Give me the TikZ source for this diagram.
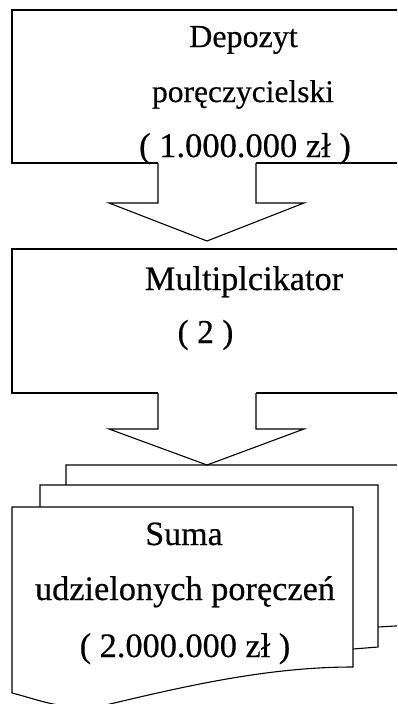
\documentclass[tikz,border=0pt]{standalone}
\usepackage{fontspec}
\setmainfont{Liberation Serif}
\newfontfamily\heavyserif[FakeBold=0.4]{Liberation Serif}
\begin{document}
\begin{tikzpicture}[x=1pt,y=-1pt,line width=1.1pt,line join=miter,
  boxshape/.style={draw,fill=white,inner sep=0pt,outer sep=0pt,anchor=north west},
  pageshape/.style={draw,fill=white},
  lbl/.style={anchor=base,inner sep=0pt},
  fs/.style={font=\heavyserif\fontsize{#1}{40}\selectfont}]
\useasboundingbox (0,0) rectangle (397,704);
\clip (0,0) rectangle (397,704);
% box 1
\node[boxshape, minimum width=420pt, minimum height=153pt] (box1) at (12,10) {};
% box 2
\node[boxshape, minimum width=420pt, minimum height=144pt] (box2) at (12,249) {};
% block arrow 1
\fill[white] (158,161.5) -- (158,203) -- (109,203) -- (207,241) -- (304,203) -- (256,203) -- (256,161.5) -- cycle;
\draw (158,163) -- (158,203) -- (109,203) -- (207,241) -- (304,203) -- (256,203) -- (256,163);
% pages (multidocument)
\draw[pageshape] (66,465) -- (430,465) -- (430,624) -- (378,627) -- (66,640) -- cycle;
\draw[pageshape] (40,485) -- (378,485) -- (378,647) -- (353,649) -- (40,660) -- cycle;
\draw[pageshape] (12,507) -- (353,507) -- (353,667) .. controls (270,667) and (190,685) .. (110,704) .. controls (70,713.5) and (40,700) .. (12,693) -- cycle;
% block arrow 2
\fill[white] (158,391.5) -- (158,429) -- (109,429) -- (207,465) -- (304,429) -- (256,429) -- (256,391.5) -- cycle;
\draw (158,393) -- (158,429) -- (109,429) -- (207,465) -- (304,429) -- (256,429) -- (256,393);
% texts
\node[lbl,fs=32] (t1) at (243.5,47) {Depozyt};
\node[lbl,fs=31.5] (t2) at (243,102) {poręczycielski};
\node[lbl,fs=34.5] (t3) at (245,157) {( 1.000.000 zł )};
\node[lbl,fs=34.3] (t4) at (244,290) {Multiplcikator};
\node[lbl,fs=33.5] (t5) at (205.5,343) {( 2 )};
\node[lbl,fs=34] (t6) at (184,545) {Suma};
\node[lbl,fs=34.3] (t7) at (185,600) {udzielonych poręczeń};
\node[lbl,fs=34.3] (t8) at (185,657) {( 2.000.000 zł )};
\end{tikzpicture}
\end{document}
